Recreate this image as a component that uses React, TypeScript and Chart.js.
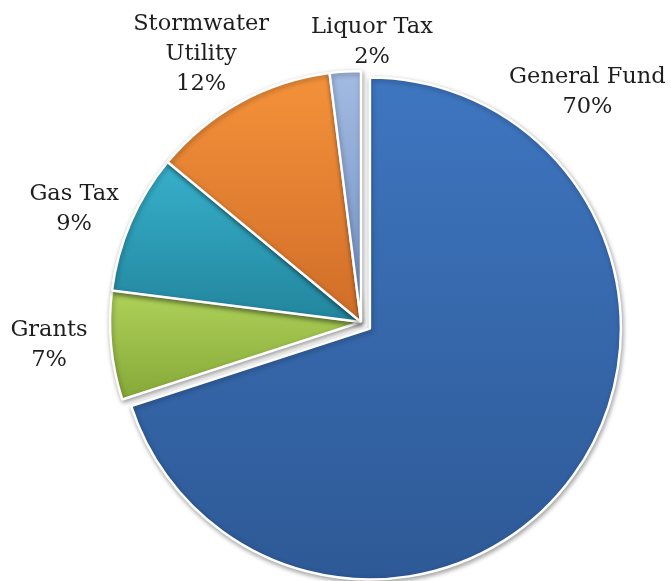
import React, { useEffect, useRef } from "react";
import { Chart, registerables } from "chart.js";

Chart.register(...registerables);

// ---- data ----
const categories: string[][] = [
  ["General Fund"],
  ["Grants"],
  ["Gas Tax"],
  ["Stormwater", "Utility"],
  ["Liquor Tax"],
];
const shares: number[] = [70, 7, 9, 12, 2];
const explode: number[] = [11, 0, 0, 0, 0];
const topColors: string[] = ["#3e76c0", "#afd25a", "#38b0cb", "#f4923b", "#a2bbe2"];
const bottomColors: string[] = ["#2e5996", "#86a838", "#22859d", "#d06d28", "#718fc2"];
// label block centre relative to pie centre, in units of the radius
const labelAnchors: number[][] = [
  [0.902, -0.915],
  [-1.243, 0.092],
  [-1.143, -0.448],
  [-0.637, -1.068],
  [0.044, -1.116],
];

const FONT = '22.5px "DejaVu Serif", serif';
const LINE_H = 30;

const shadingPlugin = {
  id: "shading",
  beforeDatasetsDraw(chart: any) {
    const ctx = chart.ctx;
    const meta = chart.getDatasetMeta(0);
    const ca = chart.chartArea;
    const ctrl: any = meta.controller;
    const baseX = (ca.left + ca.right) / 2 + (ctrl.offsetX || 0);
    const baseY = (ca.top + ca.bottom) / 2 + (ctrl.offsetY || 0);
    meta.data.forEach((arc: any, i: number) => {
      const startAngle = arc.startAngle;
      const endAngle = arc.endAngle;
      const outerRadius = arc.outerRadius;
      const mid = (startAngle + endAngle) / 2;
      const off = explode[i] || 0;
      // explode the slice outward along its bisector
      arc.x = baseX + Math.cos(mid) * off;
      arc.y = baseY + Math.sin(mid) * off;
      const oy = arc.y;
      const ys: number[] = [oy];
      const angs = [startAngle, endAngle];
      for (let n = -2; n <= 2; n++) {
        angs.push(-Math.PI / 2 + n * 2 * Math.PI, Math.PI / 2 + n * 2 * Math.PI);
      }
      angs.forEach((a) => {
        if (a >= startAngle - 1e-9 && a <= endAngle + 1e-9) ys.push(oy + Math.sin(a) * outerRadius);
      });
      const yMin = Math.min(...ys);
      const yMax = Math.max(...ys);
      const g = ctx.createLinearGradient(0, yMin, 0, yMax);
      g.addColorStop(0, topColors[i]);
      g.addColorStop(1, bottomColors[i]);
      if (Object.isFrozen(arc.options)) {
        arc.options = { ...arc.options, backgroundColor: g };
      } else {
        arc.options.backgroundColor = g;
      }
    });
    ctx.save();
    ctx.shadowColor = "rgba(0,0,0,0.35)";
    ctx.shadowBlur = 5;
    ctx.shadowOffsetX = 1;
    ctx.shadowOffsetY = 2;
  },
  afterDatasetsDraw(chart: any) {
    const ctx = chart.ctx;
    ctx.restore();
    const meta = chart.getDatasetMeta(0);
    const ca = chart.chartArea;
    const ctrl: any = meta.controller;
    const baseX = (ca.left + ca.right) / 2 + (ctrl.offsetX || 0);
    const baseY = (ca.top + ca.bottom) / 2 + (ctrl.offsetY || 0);
    const values = chart.data.datasets[0].data as number[];
    ctx.save();
    ctx.font = FONT;
    ctx.fillStyle = "#1e1e1e";
    ctx.textAlign = "center";
    ctx.textBaseline = "middle";
    meta.data.forEach((arc: any, i: number) => {
      const outerRadius = arc.outerRadius;
      const lbl = chart.data.labels[i];
      const lines: string[] = (Array.isArray(lbl) ? lbl : [lbl]).concat([`${values[i]}%`]);
      const cx = baseX + labelAnchors[i][0] * outerRadius;
      const cy = baseY + labelAnchors[i][1] * outerRadius;
      const y0 = cy - ((lines.length - 1) * LINE_H) / 2;
      lines.forEach((t, k) => ctx.fillText(t, cx, y0 + k * LINE_H));
    });
    ctx.restore();
  },
};

export default function App() {
  const ref = useRef<HTMLCanvasElement | null>(null);
  useEffect(() => {
    if (!ref.current) return;
    const chart = new Chart(ref.current, {
      type: "pie",
      data: {
        labels: categories,
        datasets: [
          {
            data: shares,
            backgroundColor: topColors,
            borderColor: "#ffffff",
            borderWidth: 2.5,
            hoverOffset: 0,
          } as any,
        ],
      },
      options: {
        animation: false,
        responsive: false,
        radius: 251,
        layout: { padding: { left: 51, right: 0, top: 63, bottom: 0 } },
        plugins: {
          legend: { display: false },
          tooltip: { enabled: false },
        },
        events: [],
      } as any,
      plugins: [shadingPlugin],
    });
    return () => chart.destroy();
  }, []);
  return (
    <canvas
      ref={ref}
      width={671}
      height={581}
      style={{ position: "absolute", left: 0, top: 0, display: "block", background: "#ffffff" }}
    />
  );
}
